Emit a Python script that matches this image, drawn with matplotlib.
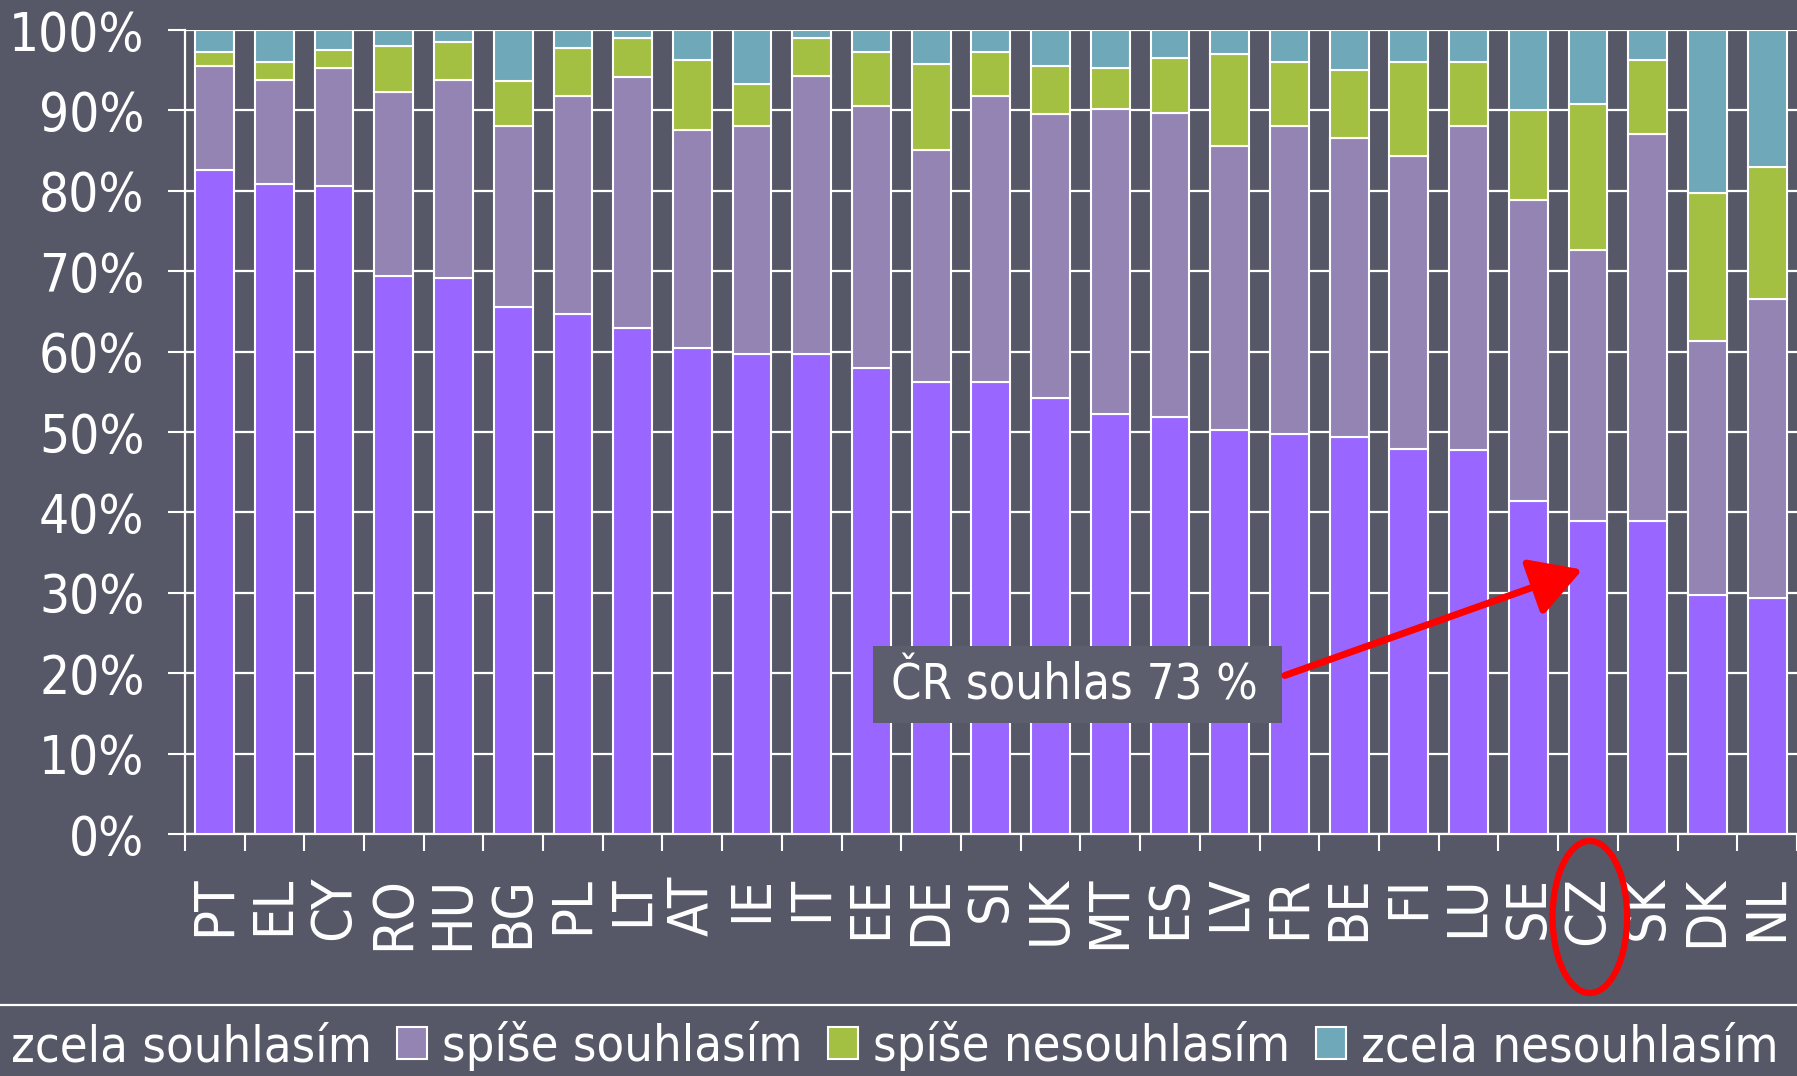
""" Stacked 100 % bar chart: agreement by EU country, CZ highlighted.
"""
import numpy as np
import matplotlib
matplotlib.use('Agg')
import matplotlib.pyplot as plt
from matplotlib.patches import Rectangle, Ellipse, FancyArrowPatch
from matplotlib.lines import Line2D
from matplotlib.transforms import blended_transform_factory

countries = ['PT', 'EL', 'CY', 'RO', 'HU', 'BG', 'PL', 'LT', 'AT', 'IE', 'IT', 'EE', 'DE', 'SI',
             'UK', 'MT', 'ES', 'LV', 'FR', 'BE', 'FI', 'LU', 'SE', 'CZ', 'SK', 'DK', 'NL']

zcela_souhlasim = [82.6, 80.9, 80.6, 69.4, 69.2, 65.5, 64.7, 62.9, 60.4, 59.7, 59.7, 58.0, 56.2, 56.2,
                   54.2, 52.2, 51.9, 50.2, 49.7, 49.4, 47.9, 47.7, 41.4, 38.9, 38.9, 29.7, 29.3]
spise_souhlasim = [12.9, 12.9, 14.7, 22.9, 24.6, 22.5, 27.1, 31.2, 27.2, 28.3, 34.6, 32.5, 28.9, 35.6,
                   35.3, 38.0, 37.8, 35.4, 38.3, 37.2, 36.4, 40.3, 37.4, 33.7, 48.2, 31.6, 37.3]
spise_nesouhlasim = [1.8, 2.2, 2.2, 5.7, 4.7, 5.7, 6.0, 4.9, 8.7, 5.3, 4.7, 6.8, 10.7, 5.5,
                     6.0, 5.1, 6.8, 11.4, 8.0, 8.4, 11.7, 8.0, 11.2, 18.2, 9.2, 18.4, 16.3]
zcela_nesouhlasim = [2.7, 4.0, 2.5, 2.0, 1.5, 6.3, 2.2, 1.0, 3.7, 6.7, 1.0, 2.7, 4.2, 2.7,
                     4.5, 4.7, 3.5, 3.0, 4.0, 5.0, 4.0, 4.0, 10.0, 9.2, 3.7, 20.3, 17.1]

labels = ['zcela souhlasím', 'spíše souhlasím', 'spíše nesouhlasím', 'zcela nesouhlasím']
colors = ['#9966FF', '#9484B4', '#A4C043', '#6FA8B8']
yticks = [0, 10, 20, 30, 40, 50, 60, 70, 80, 90, 100]

highlight = 'CZ'
note = 'ČR souhlas 73 %'

# ======================================================================================================================
W, H = 1797, 1076
bg = '#565868'
fig = plt.figure(figsize=(W / 100, H / 100), dpi=100, facecolor=bg)
ax = fig.add_axes([184.8 / W, 1 - 834 / H, 1 - 184.8 / W, 804 / H])
ax.set_facecolor(bg)

plt.rcParams['font.family'] = ['DejaVu Sans']
fstretch = 'condensed'

x = np.arange(len(countries))
bottom = np.zeros(len(countries))
series = [zcela_souhlasim, spise_souhlasim, spise_nesouhlasim, zcela_nesouhlasim]
handles = []
for vals, c, lab in zip(series, colors, labels):
    b = ax.bar(x, vals, 0.65, bottom=bottom, color=c, edgecolor='white', linewidth=1.5,
               label=lab, zorder=3)
    handles.append(b)
    bottom += np.array(vals)

ax.set_xlim(-0.5, len(countries) - 0.5)
ax.set_ylim(0, 100)
ax.yaxis.grid(True, color='white', lw=1.6, zorder=0)
ax.set_axisbelow(True)
for s in ['top', 'right']:
    ax.spines[s].set_visible(False)
for s in ['left', 'bottom']:
    ax.spines[s].set_color('white')
    ax.spines[s].set_linewidth(1.6)

ax.set_yticks(yticks)
ax.set_yticklabels([f'{v}%' for v in yticks], fontsize=38, color='white', fontstretch=fstretch)
ax.tick_params(axis='y', length=12, width=1.5, color='white', pad=17)

ax.set_xticks(np.arange(-0.5, len(countries), 1))
ax.set_xticklabels([])
ax.tick_params(axis='x', which='major', length=12, width=1.5, color='white')
ax.set_xticks(x, minor=True)
ax.set_xticklabels(countries, minor=True, rotation=90, fontsize=40, color='white',
                   fontstretch=fstretch)
ax.tick_params(axis='x', which='minor', length=0, pad=30)

# annotation box + arrow to CZ
ci = countries.index(highlight)
ax.add_patch(Rectangle((11.03, 13.8), 6.85, 9.6, facecolor='#5C5D6D', edgecolor='none',
                       zorder=5, clip_on=False))
ax.text(11.33, 18.5, note, fontsize=35, color='white', va='center', ha='left', zorder=6,
        fontstretch=fstretch)
ax.add_patch(FancyArrowPatch((17.88, 19.6), (ci - 0.05, 33.0),
                             arrowstyle='-|>,head_length=1.05,head_width=0.6', mutation_scale=30,
                             color='#FF0000', lw=5, zorder=7, clip_on=False))

# red ellipse round the CZ label
tr = blended_transform_factory(ax.transData, fig.transFigure)
fig.add_artist(Ellipse((ci + 0.03, 1 - 917 / H), 1.25, 152 / H, transform=tr, fill=False,
                       edgecolor='#FF0000', lw=4.5))

# separator line and legend
fig.add_artist(Line2D([0, 1], [1 - 1005 / H] * 2, color='white', lw=1.6, transform=fig.transFigure))
leg = fig.legend(handles, labels, loc='center', bbox_to_anchor=(872 / W, 1 - 1046 / H), ncol=4,
                 frameon=False, handlelength=0.6, handleheight=0.6,
                 handletextpad=0.3, columnspacing=0.5, borderpad=0,
                 prop={'size': 36.3, 'stretch': fstretch})
for t in leg.get_texts():
    t.set_color('white')

fig.savefig('out.png', dpi=100, facecolor=bg)
